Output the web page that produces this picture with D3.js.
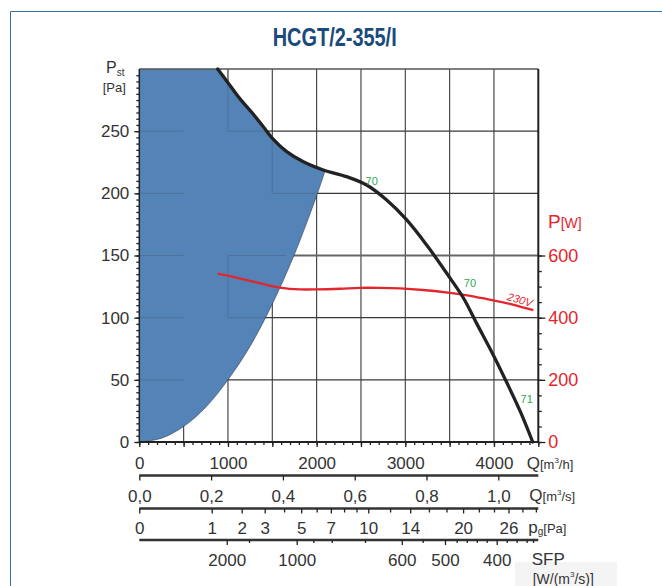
<!DOCTYPE html>
<html><head><meta charset="utf-8">
<script src="https://cdn.jsdelivr.net/npm/d3@7"></script>
<style>
body{margin:0;background:#fff}
svg{display:block;font-family:"Liberation Sans",Arial,Helvetica,sans-serif}
</style>
</head><body>
<svg id="c" width="662" height="586"></svg>
<script>
// ---------------- data ----------------
const chartTitle = "HCGT/2-355/I";
// fan static pressure curve: [Q m3/h, Pst Pa]
const fanCurve = [[884,300],[1000,289],[1136,276],[1270,265],[1399,253.6],[1504,244],[1662,233.5],[1850,225.4],[2075,218.8],[2339,213.4],[2564,206.7],[2790,194.6],[3016,178.6],[3241,158.4],[3467,135.7],[3654,116],[3800,96],[3992,70],[4143,48],[4300,24],[4437,0]];
// power curve 230V: [Q m3/h, P W]
const powerCurve = [[884,542],[1000,535],[1211,521],[1400,508],[1587,497],[1812,491],[2000,491],[2263,493],[2489,496],[2700,496],[2940,494],[3200,489],[3504,480],[3700,472],[3918,460],[4200,443],[4444,424]];
// edge of shaded (not allowed) region: [Q m3/h, Pst Pa]
const limitCurve = [[0,0],[250,3],[500,12.5],[750,28],[1000,50],[1250,77],[1500,111],[1750,151],[2000,198],[2095,218]];
const limitTop = [[0,300],[884,300]];
// axes
const pstTicks = [0,50,100,150,200,250];
const powerTicks = [0,200,400,600];
const qhTicks = [0,1000,2000,3000,4000];
const qsTicks = [0,0.2,0.4,0.6,0.8,1.0];
const qsLabels = ["0,0","0,2","0,4","0,6","0,8","1,0"];
const pgTicks = [0,1,2,3,5,7,10,14,20,26];
const pgMinor = [4,6,8,9,12,16,18,22,24,28,30];
const sfpTicks = [2000,1000,600,500,400];
const sfpAtQs = [0.2435,0.4384,0.731,0.8515,0.9955];      // m3/s where each SFP mark sits
const sfpMinorAtQs = [0.3056,0.4847,0.536,0.6287,0.7894,0.884,0.912,0.94,0.9677,1.0234,1.0512,1.079,1.0967];
// faint grid pieces showing through the shaded region: [Q1,P1,Q2,P2]
const shadedGrid = [[0,250,500,250],[1000,250,1500,250],[0,200,500,200],[1500,200,2000,200],[0,150,500,150],[1000,150,1650,150],[0,100,500,100],[1000,100,1450,100],[0,50,500,50],[1000,300,1000,250],[1500,250,1500,200],[1000,150,1000,100],[500,10,500,0]];
// curve annotations
const notes = [{t:"70",q:2621,p:210},{t:"70",q:3729,p:128},{t:"71",q:4369,p:34.6}];
const voltNote = {t:"230V",q:4293,w:458};

// ---------------- drawing ----------------
const svg = d3.select("#c");
const L=139.3, R=538.3, T=69, B=442;
const x = d3.scaleLinear([0,4500],[L,R]);
const y = d3.scaleLinear([0,300],[B,T]);
const yW = d3.scaleLinear([0,1200],[B,T]);
const xs = d3.scaleLinear([0,1.1114],[L,R]);
const xpg = d3.scaleSqrt([0,30.37],[L,R]);
const xsfp = d3.scaleLinear(sfpTicks, sfpAtQs.map(xs));
const fmt = d3.format("d");

const ink="#333", red="#e3252d", green="#2ea85a";

// frame
svg.append("path").attr("d",`M10.5,586V11.5H662`).attr("fill","none").attr("stroke","#3b6e9e").attr("stroke-width",1);

// title
svg.append("text").attr("x",334.7).attr("y",46).attr("text-anchor","middle")
  .attr("font-size",26).attr("font-weight","bold").attr("fill","#1b4a7c")
  .attr("textLength",124).attr("lengthAdjust","spacingAndGlyphs").text(chartTitle);

// grid
const grid = svg.append("g").attr("stroke","#3a3a3a").attr("stroke-width",1.1);
d3.range(500,4500,500).forEach(q=>grid.append("line").attr("x1",x(q)).attr("x2",x(q)).attr("y1",T).attr("y2",B));
d3.range(50,300,50).forEach(p=>grid.append("line").attr("x1",L).attr("x2",R).attr("y1",y(p)).attr("y2",y(p)).attr("stroke",p===150?"#666":"#3a3a3a").attr("stroke-width",p===150?1.8:1.1));

// shaded region
const lineQP = d3.line().x(d=>x(d[0])).y(d=>y(d[1]));
const fanPart = fanCurve.filter(d=>d[0]<2095).concat([[2095,218]]);
const fanD = lineQP.curve(d3.curveCatmullRom)(fanPart);
const limD = d3.line().x(d=>x(d[0])).y(d=>y(d[1])).curve(d3.curveCatmullRom)(limitCurve.slice().reverse());
const areaD = lineQP.curve(d3.curveLinear)(limitTop) + "L" + fanD.slice(1) + "L" + limD.slice(1) + "Z";
svg.append("path").attr("d",areaD).attr("fill","#5383b7");
svg.append("path").attr("d",d3.line().x(d=>x(d[0])).y(d=>y(d[1])).curve(d3.curveCatmullRom)(limitCurve))
  .attr("fill","none").attr("stroke","#2c3340").attr("stroke-width",0.8).attr("stroke-opacity",0.7);
const sg = svg.append("g").attr("stroke","#4b5a70").attr("stroke-width",1).attr("stroke-opacity",0.4);
shadedGrid.forEach(s=>sg.append("line").attr("x1",x(s[0])).attr("y1",y(s[1])).attr("x2",x(s[2])).attr("y2",y(s[3])));

// top border & right border
svg.append("line").attr("x1",L).attr("x2",R).attr("y1",T).attr("y2",T).attr("stroke","#555").attr("stroke-width",1.3);
svg.append("line").attr("x1",R).attr("x2",R).attr("y1",T).attr("y2",B+1).attr("stroke","#222").attr("stroke-width",2);

// curves
svg.append("path").attr("d",d3.line().x(d=>x(d[0])).y(d=>yW(d[1])).curve(d3.curveCatmullRom)(powerCurve))
  .attr("fill","none").attr("stroke",red).attr("stroke-width",2.3);
svg.append("path").attr("d",lineQP.curve(d3.curveCatmullRom)(fanCurve))
  .attr("fill","none").attr("stroke","#222").attr("stroke-width",3.3).attr("stroke-linecap","round");

notes.forEach(n=>svg.append("text").attr("x",x(n.q)).attr("y",y(n.p)).attr("dy","0.36em").attr("text-anchor","middle")
  .attr("font-size",11).attr("fill",green).text(n.t));
svg.append("text").attr("transform",`translate(${x(voltNote.q)},${yW(voltNote.w)}) rotate(16)`).attr("dy","0.36em")
  .attr("text-anchor","middle").attr("font-size",11).attr("font-style","italic").attr("fill",red).text(voltNote.t);

function styleAxis(g,size,color){
  g.select(".domain").remove();
  g.selectAll("text").attr("font-size",size).attr("fill",color).attr("font-family",null);
  g.selectAll("line").attr("stroke","#222").attr("stroke-width",1.3);
}
// left axis
const gl = svg.append("g").attr("transform",`translate(${L},0)`);
gl.call(d3.axisLeft(y).tickValues(d3.range(0,300,5)).tickSize(3).tickFormat("")); styleAxis(gl,0,ink);
const gl2 = svg.append("g").attr("transform",`translate(${L},0)`);
gl2.call(d3.axisLeft(y).tickValues(pstTicks).tickSize(5).tickPadding(5).tickFormat(fmt)); styleAxis(gl2,17,ink);
svg.append("line").attr("x1",L).attr("x2",L).attr("y1",T).attr("y2",B).attr("stroke","#222").attr("stroke-width",1.5);

// right axis
const gr = svg.append("g").attr("transform",`translate(${R},0)`);
gr.call(d3.axisRight(yW).tickValues(d3.range(0,650,50)).tickSize(3.5).tickFormat("")); styleAxis(gr,0,ink);
const gr2 = svg.append("g").attr("transform",`translate(${R},0)`);
gr2.call(d3.axisRight(yW).tickValues(powerTicks).tickSize(7).tickPadding(3).tickFormat(fmt)); styleAxis(gr2,18,red);

// bottom Q m3/h
const gb = svg.append("g").attr("transform",`translate(0,${B})`);
gb.call(d3.axisBottom(x).tickValues(d3.range(0,4501,100)).tickSize(3).tickFormat("")); styleAxis(gb,0,ink);
const gb2 = svg.append("g").attr("transform",`translate(0,${B})`);
gb2.call(d3.axisBottom(x).tickValues(d3.range(0,4501,500)).tickSize(5).tickFormat("")); styleAxis(gb2,0,ink);
const gb3 = svg.append("g").attr("transform",`translate(0,${B})`);
gb3.call(d3.axisBottom(x).tickValues(qhTicks).tickSize(0).tickPadding(15).tickFormat(fmt)); styleAxis(gb3,17,ink);
svg.append("line").attr("x1",L).attr("x2",R).attr("y1",B).attr("y2",B).attr("stroke","#222").attr("stroke-width",2);

function lowerLine(yy){ svg.append("line").attr("x1",L).attr("x2",R).attr("y1",yy).attr("y2",yy).attr("stroke","#333").attr("stroke-width",2.6); }
// Q m3/s
const ys=475.5; lowerLine(ys);
const gs = svg.append("g").attr("transform",`translate(0,${ys})`);
gs.call(d3.axisBottom(xs).tickValues(qsTicks).tickSize(5).tickPadding(9).tickFormat((d,i)=>qsLabels[i])); styleAxis(gs,17,ink);
// pg
const yp=508.5; lowerLine(yp);
const gp = svg.append("g").attr("transform",`translate(0,${yp})`);
gp.call(d3.axisBottom(xpg).tickValues(pgMinor).tickSize(4).tickFormat("")); styleAxis(gp,0,ink);
const gp2 = svg.append("g").attr("transform",`translate(0,${yp})`);
gp2.call(d3.axisBottom(xpg).tickValues(pgTicks).tickSize(5).tickPadding(8).tickFormat(fmt)); styleAxis(gp2,17,ink);
// SFP
const yf=540; lowerLine(yf);
const gf = svg.append("g").attr("transform",`translate(0,${yf})`);
gf.call(d3.axisBottom(xs).tickValues(sfpMinorAtQs).tickSize(3).tickFormat("")); styleAxis(gf,0,ink);
const gf2 = svg.append("g").attr("transform",`translate(0,${yf})`);
gf2.call(d3.axisBottom(xsfp).tickValues(sfpTicks).tickSize(5).tickPadding(9).tickFormat(fmt)); styleAxis(gf2,17,ink);

// unit labels
svg.append("rect").attr("x",515).attr("y",562).attr("width",102).attr("height",24).attr("fill","#f4f4f4");
function unit(xx,yy,parts,color){
  const t = svg.append("text").attr("x",xx).attr("y",yy).attr("fill",color||ink);
  parts.forEach(p=>{ const s=t.append("tspan").attr("font-size",p[1]).text(p[0]); if(p[2]) s.attr("dy",p[2]); });
  return t;
}
unit(526.7,469,[["Q",17],["[m",13],["3",8,-6],["/h]",13,6]]);
unit(529.3,501,[["Q",17],["[m",13],["3",8,-6],["/s]",13,6]]);
unit(528.3,533,[["p",17],["g",10,2],["[Pa]",13,-2]]);
unit(531.7,565,[["SFP",17]]);
unit(532.7,584,[["[W/(m",14],["3",8,-7],["/s)]",14,7]]);
unit(548,228,[["P",19],["[W]",14]],red);
unit(106,73.3,[["P",16],["st",10,3]]);
unit(102.7,91.5,[["[Pa]",13]]);
</script>
</body></html>
